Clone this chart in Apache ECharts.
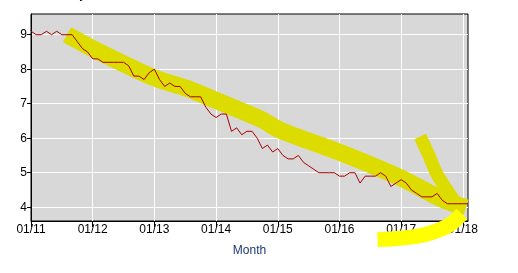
<!DOCTYPE html>
<html>
<head>
<meta charset="utf-8">
<script src="https://cdn.jsdelivr.net/npm/echarts@6/dist/echarts.min.js"></script>
<style>html,body{margin:0;padding:0;background:#fff}#c{width:518px;height:273px}</style>
</head>
<body>
<div id="c"></div>
<script>
// Unemployment rate, monthly, Jan 2011 .. Feb 2018 (index 0 = 01/2011)
var startYear = 2011;
var rate = [
  9.1, 9.0, 9.0, 9.1, 9.0, 9.1, 9.0, 9.0, 9.0, 8.8, 8.6, 8.5,
  8.3, 8.3, 8.2, 8.2, 8.2, 8.2, 8.2, 8.1, 7.8, 7.8, 7.7, 7.9,
  8.0, 7.7, 7.5, 7.6, 7.5, 7.5, 7.3, 7.2, 7.2, 7.2, 6.9, 6.7,
  6.6, 6.7, 6.7, 6.2, 6.3, 6.1, 6.2, 6.2, 6.0, 5.7, 5.8, 5.6,
  5.7, 5.5, 5.4, 5.4, 5.5, 5.3, 5.2, 5.1, 5.0, 5.0, 5.0, 5.0,
  4.9, 4.9, 5.0, 5.0, 4.7, 4.9, 4.9, 4.9, 5.0, 4.9, 4.6, 4.7,
  4.8, 4.7, 4.5, 4.4, 4.3, 4.3, 4.3, 4.4, 4.2, 4.1, 4.1, 4.1,
  4.1, 4.1
];
// Hand-drawn yellow highlighter strokes, as [monthIndex, value]
var bandMain = [[7, 9.0], [12.1, 8.59], [23.8, 7.76], [30.4, 7.44], [36.2, 7.08], [44.6, 6.56], [48.5, 6.23], [60.2, 5.58], [71.9, 4.85], [79.7, 4.25], [84.6, 3.98]];
var bandDown = [[75.7, 6.05], [77.4, 5.5], [79.0, 4.95], [83.3, 3.98]];
var bandBottom = [[67.4, 3.06], [75.2, 3.16], [81.0, 3.45], [83.8, 3.8]];
var xTicks = [0, 12, 24, 36, 48, 60, 72, 84];
var yTicks = [4, 5, 6, 7, 8, 9];
var xName = 'Month';
var titleText = '16 years and over';

var series = rate.map(function (v, i) { return [i, v]; });
function lbl(v) {
  var yy = (startYear + Math.round(v / 12)) % 100;
  return '01/' + (yy < 10 ? '0' + yy : yy);
}
var font = '"Liberation Sans", Arial, sans-serif';
var chart = echarts.init(document.getElementById('c'), null, {renderer: 'canvas'});
chart.setOption({
  animation: false,
  graphic: [{
    type: 'text', left: 60, top: -11,
    style: {text: titleText, font: '12px "DejaVu Sans", sans-serif', fill: '#000'}
  }],
  grid: {
    left: 31, right: 50, top: 14, bottom: 52,
    show: true, backgroundColor: '#d8d8d8', borderColor: '#000', borderWidth: 1
  },
  xAxis: {
    type: 'value', min: 0, max: 85,
    name: xName, nameLocation: 'middle', nameGap: 24,
    nameTextStyle: {color: '#1a3a78', fontFamily: font, fontSize: 12},
    axisLine: {show: true, lineStyle: {color: '#000', width: 1}},
    axisTick: {show: true, length: 6, lineStyle: {color: '#000'}, customValues: xTicks},
    axisLabel: {color: '#000', fontFamily: font, fontSize: 12, margin: 3,
      customValues: xTicks, formatter: function (v) { return lbl(v); }},
    splitLine: {show: true, lineStyle: {color: '#fff', width: 1}}
  },
  yAxis: {
    type: 'value', min: 3.6, max: 9.6,
    axisLine: {show: true, lineStyle: {color: '#000', width: 1}},
    axisTick: {show: true, length: 4, lineStyle: {color: '#000'}, customValues: yTicks},
    axisLabel: {color: '#000', fontFamily: font, fontSize: 12, margin: 4,
      customValues: yTicks, formatter: function (v) { return String(v); }},
    splitLine: {show: true, lineStyle: {color: '#fff', width: 1}}
  },
  series: [
    {type: 'line', data: bandMain, symbol: 'none', smooth: 0.3, clip: false, z: 1,
      lineStyle: {color: '#dcdc00', width: 17, cap: 'butt', join: 'round'}},
    {type: 'line', data: bandDown, symbol: 'none', smooth: 0.3, clip: false, z: 1,
      lineStyle: {color: '#dcdc00', width: 13, cap: 'butt', join: 'round'}},
    {type: 'line', data: bandBottom, symbol: 'none', smooth: 0.3, clip: false, z: 1,
      lineStyle: {color: '#ffff00', width: 15, cap: 'butt', join: 'round'}},
    {type: 'line', data: series, symbol: 'none', z: 3,
      lineStyle: {color: '#a80000', width: 1}}
  ]
});
</script>
</body>
</html>
